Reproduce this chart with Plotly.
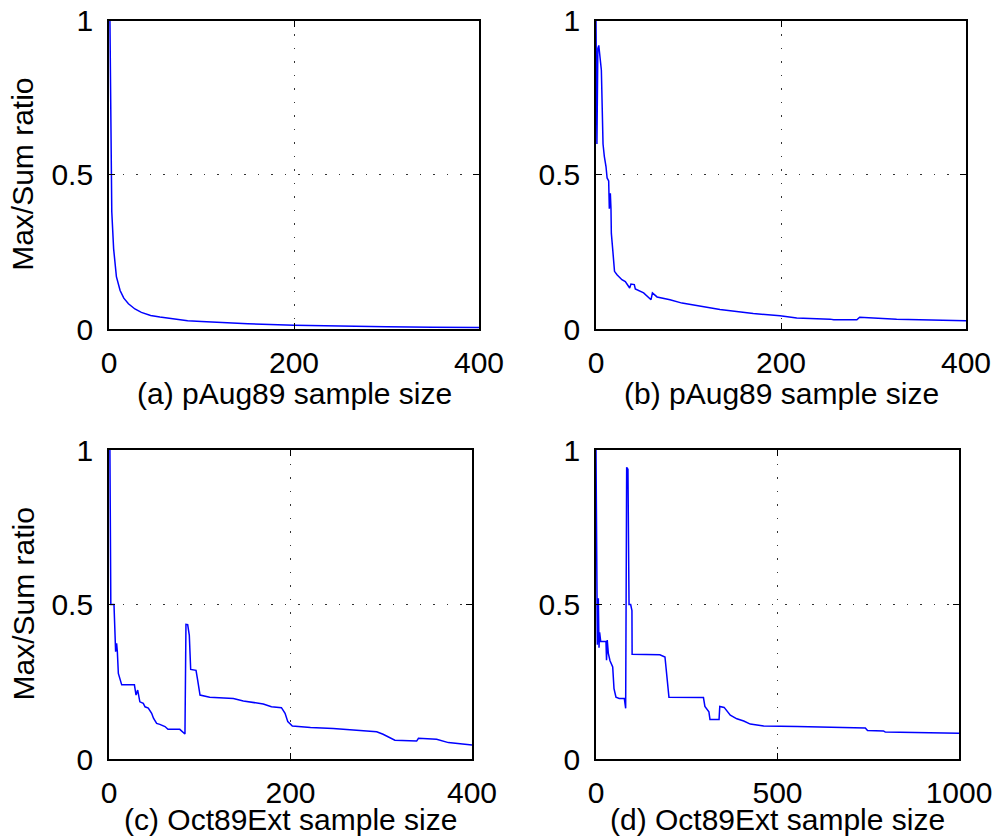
import plotly.graph_objects as go

# ---------------- data ----------------
a_x = [1, 2, 3, 5, 8, 12, 16, 21, 28, 35, 45, 55, 70, 85, 100, 120, 150, 200, 250, 300, 350, 400]
a_y = [1.0, 0.55, 0.38, 0.26, 0.17, 0.125, 0.10, 0.082, 0.065, 0.054, 0.044, 0.039, 0.032,
       0.027, 0.024, 0.021, 0.017, 0.012, 0.009, 0.007, 0.006, 0.005]

b_x = [0, 1, 2, 3, 5.8, 7.6, 9, 10.8, 12, 13.7, 14.4, 15.5, 16.2, 16.6, 18.4, 20, 22.7, 28,
       31.7, 36.4, 37.8, 41.4, 42.5, 51.5, 59.5, 61, 66, 80, 93, 109, 134, 152, 170, 199,
       217, 253, 257, 282, 285, 325, 400]
b_y = [1.0, 0.60, 0.91, 0.92, 0.84, 0.60, 0.56, 0.527, 0.49, 0.48, 0.39, 0.44, 0.39, 0.31,
       0.246, 0.187, 0.176, 0.16, 0.154, 0.133, 0.146, 0.144, 0.13, 0.117, 0.095, 0.117,
       0.104, 0.095, 0.084, 0.076, 0.063, 0.057, 0.05, 0.043, 0.036, 0.032, 0.03, 0.03,
       0.038, 0.032, 0.027]

c_x = [1, 2, 5.5, 6.6, 7.3, 8.4, 9.2, 10.3, 11.4, 14, 28, 29.8, 31.6, 34, 37.8, 39.7, 43.3,
       47, 49, 52.5, 56, 61.7, 65, 78, 83.7, 84.8, 86.7, 88.5, 90, 95.9, 97.7, 100.3, 111,
       137, 148, 170, 179, 190, 194, 197, 202, 222, 247, 295, 302, 315, 339, 341, 361, 374, 400]
c_y = [1.0, 0.5, 0.5, 0.385, 0.347, 0.374, 0.347, 0.277, 0.266, 0.24, 0.24, 0.207, 0.223,
       0.185, 0.18, 0.169, 0.165, 0.148, 0.132, 0.115, 0.112, 0.105, 0.096, 0.096, 0.081,
       0.436, 0.435, 0.40, 0.29, 0.287, 0.255, 0.207, 0.20, 0.196, 0.188, 0.178, 0.169,
       0.166, 0.148, 0.121, 0.107, 0.102, 0.099, 0.088, 0.08, 0.061, 0.058, 0.067, 0.064,
       0.053, 0.045]

d_x = [0, 3.7, 6.4, 8.3, 10, 13, 27.5, 29, 31, 34, 38.6, 46, 49.6, 55, 64, 78, 81.7, 84.5,
       88, 91, 95.5, 99, 99.5, 176, 190, 195, 201, 296, 300, 311, 314, 339, 341, 353, 370,
       388, 407, 425, 462, 554, 645, 742, 748, 792, 797, 875, 1000]
d_y = [1.0, 0.37, 0.52, 0.36, 0.41, 0.38, 0.38, 0.32, 0.385, 0.342, 0.318, 0.298, 0.228,
       0.2, 0.196, 0.196, 0.164, 0.944, 0.938, 0.5, 0.5, 0.48, 0.339, 0.337, 0.33, 0.277,
       0.2, 0.199, 0.17, 0.153, 0.128, 0.128, 0.17, 0.167, 0.142, 0.13, 0.123, 0.113,
       0.107, 0.105, 0.102, 0.1, 0.092, 0.091, 0.087, 0.086, 0.083]

titles = ["(a) pAug89 sample size", "(b) pAug89 sample size",
          "(c) Oct89Ext sample size", "(d) Oct89Ext sample size"]
y_title = "Max/Sum ratio"
x_ranges = [[0, 400], [0, 400], [0, 400], [0, 1000]]
x_ticks = [[0, 200, 400], [0, 200, 400], [0, 200, 400], [0, 500, 1000]]
y_ticks = [0, 0.5, 1]

# ---------------- layout geometry ----------------
W, H = 997, 838
boxes = [  # left, right, top, bottom in pixels
    (109, 479, 20.7, 329),
    (596, 966, 20.7, 329),
    (109, 472, 450, 759),
    (596, 959, 450, 759),
]
title_offset = [64, 64, 60, 60]
FONT = "Liberation Sans, Arial, Helvetica, sans-serif"
FS = 30

fig = go.Figure()
series = [(a_x, a_y), (b_x, b_y), (c_x, c_y), (d_x, d_y)]
annotations = []
for i, ((xs, ys), (l, r, t, b)) in enumerate(zip(series, boxes)):
    n = "" if i == 0 else str(i + 1)
    fig.add_trace(go.Scatter(x=xs, y=ys, mode="lines",
                             line=dict(color="#0000ff", width=1.5),
                             xaxis="x" + n, yaxis="y" + n, showlegend=False))
    common = dict(showline=True, linecolor="black", linewidth=1.8, mirror="ticks",
                  ticks="inside", ticklen=6, tickwidth=1, tickcolor="black",
                  showgrid=True, gridcolor="#333333", gridwidth=1, griddash="1.5px,12px",
                  zeroline=False, automargin=False,
                  tickfont=dict(family=FONT, size=FS, color="black"))
    fig.update_layout({
        "xaxis" + n: dict(domain=[l / W, r / W], range=x_ranges[i], tickvals=x_ticks[i],
                          anchor="y" + n, ticklabelstandoff=6, **common),
        "yaxis" + n: dict(domain=[1 - b / H, 1 - t / H], range=[0, 1], tickvals=y_ticks,
                          anchor="x" + n, ticklabelstandoff=8, **common),
    })
    annotations.append(dict(text=titles[i], xref="paper", yref="paper",
                            x=(l + r) / 2 / W, y=1 - (b + title_offset[i]) / H,
                            xanchor="center", yanchor="middle", showarrow=False,
                            font=dict(family=FONT, size=FS, color="black")))
    if i in (0, 2):
        annotations.append(dict(text=y_title, xref="paper", yref="paper",
                                x=23 / W, y=1 - (t + b) / 2 / H, textangle=-90,
                                xanchor="center", yanchor="middle", showarrow=False,
                                font=dict(family=FONT, size=FS, color="black")))

fig.update_layout(width=W, height=H, autosize=False,
                  margin=dict(l=0, r=0, t=0, b=0),
                  paper_bgcolor="white", plot_bgcolor="white",
                  annotations=annotations)

fig.write_html("out.html")
